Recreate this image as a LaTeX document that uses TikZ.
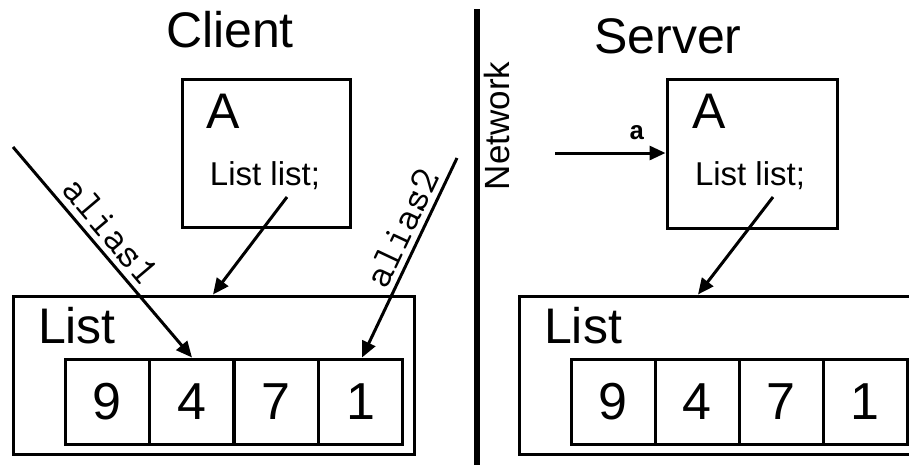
\documentclass[tikz,border=0pt]{standalone}
\usepackage{fontspec}
\setmainfont{Liberation Sans}
\newfontfamily\codebold{Liberation Mono}
\usetikzlibrary{arrows.meta}
\begin{document}
\begin{tikzpicture}[x=1pt,y=-1pt,
  frame/.style={draw, line width=3pt, rectangle, inner sep=0pt},
  cell/.style={frame, minimum width=84pt, minimum height=85pt,
    font=\fontsize{52}{60}\selectfont},
  heading/.style={font=\fontsize{50}{60}\selectfont, anchor=base, inner sep=0pt},
  decl/.style={font=\fontsize{33}{40}\selectfont, anchor=base, inner sep=0pt},
  ptr/.style={line width=3pt, -{Triangle[length=16pt,width=14pt]}},
  tag/.style={font=\ttfamily\fontsize{41}{46}\selectfont, inner sep=0pt}]

% fixed canvas; the server list runs off the right edge
\useasboundingbox (0,0) rectangle (909,464);
\clip (0,0) rectangle (909,464);

% ---------------- client side ----------------
\node[heading] (ctitle) at (230,47) {Client};
\node[frame, minimum width=168pt, minimum height=148pt] (cA) at (266,153) {};
\node[heading] (cAname) at (223,128) {A};
\node[decl] (cdecl) at (265,185) {List list;};

\node[frame, minimum width=401pt, minimum height=158pt] (clist) at (213.5,375) {};
\node[heading] (clistname) at (77,343) {List};
\node[cell] (c1) at (107.25,401.5) {9};
\node[cell] (c2) at (191.75,401.5) {4};
\node[cell] (c3) at (276.25,401.5) {7};
\node[cell] (c4) at (360.75,401.5) {1};

\coordinate (cdecl-out) at (287,197);
\coordinate (clist-in) at (213,294.5);
\coordinate (alias1-src) at (13,147);
\coordinate (alias1-dst) at (192,357.5);
\coordinate (alias2-src) at (457,158);
\coordinate (alias2-dst) at (362,357.5);

\draw[ptr] (cdecl-out) -- (clist-in);
\draw[ptr] (alias1-src) -- (alias1-dst);
\draw[ptr] (alias2-src) -- (alias2-dst);

\node[tag, rotate=-49.8] (alias1) at (111,231) {alias1};
\node[tag, rotate=64.7] (alias2) at (402,228) {alias2};

% ---------------- network divider ----------------
\coordinate (net-top) at (477,9);
\coordinate (net-bot) at (477,470);
\draw[line width=5.5pt] (net-top) -- (net-bot);
\node[font=\fontsize{35}{40}\selectfont, rotate=90, inner sep=0pt] (net) at (497,126) {Network};

% ---------------- server side ----------------
\node[heading] (stitle) at (668,53) {Server};
\node[frame, minimum width=170pt, minimum height=149pt] (sA) at (752,153.5) {};
\node[heading] (sAname) at (709,128) {A};
\node[decl] (sdecl) at (750,185) {List list;};

\node[frame, minimum width=441pt, minimum height=158pt] (slist) at (739.5,375) {};
\node[heading] (slistname) at (583,343) {List};
\node[cell] (s1) at (613,401.5) {9};
\node[cell] (s2) at (697,401.5) {4};
\node[cell] (s3) at (781,401.5) {7};
\node[cell] (s4) at (865,401.5) {1};

\coordinate (sdecl-out) at (773,197);
\coordinate (slist-in) at (698,294.5);
\coordinate (a-src) at (555,153);
\draw[ptr] (sdecl-out) -- (slist-in);
\draw[ptr] (a-src) -- (a-src -| sA.west);
\node[font=\codebold\bfseries\fontsize{26}{30}\selectfont, inner sep=0pt] (aname) at (637,133) {a};

\end{tikzpicture}
\end{document}
